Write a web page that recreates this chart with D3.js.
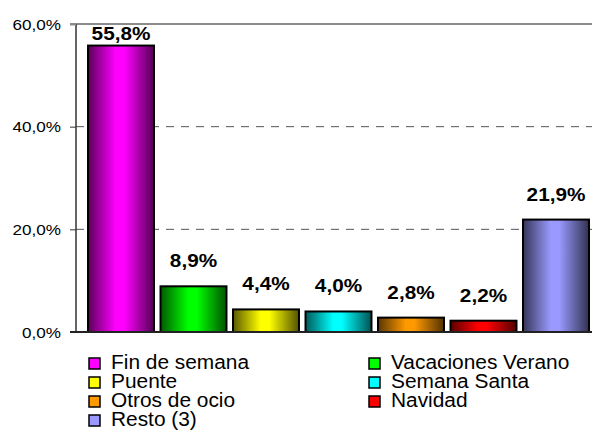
<!DOCTYPE html>
<html>
<head>
<meta charset="utf-8">
<script src="https://cdn.jsdelivr.net/npm/d3@7"></script>
<style>
  html, body { margin: 0; padding: 0; background: #fff; }
  svg { display: block; }
  text { font-family: "Liberation Sans", Arial, sans-serif; }
</style>
</head>
<body>
<svg id="chart" width="592" height="431"></svg>
<script>
const categories = ["Fin de semana", "Vacaciones Verano", "Puente", "Semana Santa", "Otros de ocio", "Navidad", "Resto (3)"];
const values = [55.8, 8.9, 4.4, 4.0, 2.8, 2.2, 21.9];
const colors = ["#ff00ff", "#00ff00", "#ffff00", "#00ffff", "#ff9900", "#ff0000", "#9999ff"];
const yTicks = [0, 20, 40, 60];

(function () {
const fmt = v => v.toFixed(1).replace(".", ",") + "%";

const svg = d3.select("#chart");
const mLeft = 76, mRight = 592, mTop = 24, mBottom = 332;

const x = d3.scaleBand().domain(categories).range([84.75, 592.25]).paddingInner(0.09).paddingOuter(0.045);
const y = d3.scaleLinear().domain([0, 60]).range([mBottom, mTop]);

// gradients
const defs = svg.append("defs");
categories.forEach((c, i) => {
  const base = d3.color(colors[i]).formatHex();
  const dark = d3.interpolateRgb("#000", colors[i]);
  const g = defs.append("linearGradient").attr("id", "g" + i)
    .attr("x1", "0%").attr("x2", "100%").attr("y1", "0%").attr("y2", "0%");
  g.append("stop").attr("offset", "0%").attr("stop-color", dark(0.35));
  g.append("stop").attr("offset", "42%").attr("stop-color", base);
  g.append("stop").attr("offset", "55%").attr("stop-color", base);
  g.append("stop").attr("offset", "100%").attr("stop-color", dark(0.32));
});

// gridlines
svg.append("g").selectAll("line").data(yTicks.filter(t => t > 0 && t < 60)).join("line")
  .attr("x1", mLeft).attr("x2", mRight)
  .attr("y1", d => y(d)).attr("y2", d => y(d))
  .attr("stroke", "#555").attr("stroke-width", 1).attr("stroke-dasharray", "8,7");

// top border
svg.append("line").attr("x1", 70).attr("x2", mRight).attr("y1", y(60)).attr("y2", y(60))
  .attr("stroke", "#8c8c8c").attr("stroke-width", 2);

// left axis
const yAxis = d3.axisLeft(y).tickValues(yTicks).tickSize(6).tickPadding(8).tickFormat(fmt);
const ag = svg.append("g").attr("transform", `translate(${mLeft},0)`).call(yAxis);
ag.attr("font-size", null).attr("font-family", null);
ag.select(".domain").attr("stroke", "#333").attr("stroke-width", 1.5).attr("d", `M0,${mTop}V${mBottom}`);
ag.selectAll(".tick line").attr("stroke", "#333").attr("stroke-width", 1);
ag.selectAll(".tick").filter(d => d === 60).select("line").attr("stroke", "#8c8c8c").attr("stroke-width", 2);
ag.selectAll(".tick text").style("font-size", "15px").attr("fill", "#000")
  .attr("x", -15).attr("dy", "0.35em");

// bars
svg.append("g").selectAll("rect").data(values).join("rect")
  .attr("x", (d, i) => x(categories[i]))
  .attr("width", x.bandwidth())
  .attr("y", d => y(d))
  .attr("height", d => y(0) - y(d))
  .attr("fill", (d, i) => `url(#g${i})`)
  .attr("stroke", "#000").attr("stroke-width", 2);

// bottom axis line
svg.append("line").attr("x1", 70).attr("x2", mRight).attr("y1", mBottom).attr("y2", mBottom)
  .attr("stroke", "#222").attr("stroke-width", 2);

// value labels
const vl = svg.append("g").selectAll("text").data(values).join("text")
  .attr("x", (d, i) => x(categories[i]) + x.bandwidth() / 2)
  .attr("y", d => Math.max(y(d) - 19, 40))
  .attr("text-anchor", "middle")
  .style("font-size", "18.5px").attr("font-weight", "bold")
  .text(fmt);

// legend
const lg = svg.append("g");
const items = lg.selectAll("g").data(categories).join("g")
  .attr("transform", (d, i) => `translate(${i % 2 === 0 ? 89 : 369},${369 + Math.floor(i / 2) * 19})`);
items.append("rect").attr("x", 0).attr("y", -11).attr("width", 11).attr("height", 11)
  .attr("fill", (d, i) => colors[i]).attr("stroke", "#000").attr("stroke-width", 1.5);
const lt = items.append("text").attr("x", 22).attr("y", 0).style("font-size", "19.5px").text(d => d);

// horizontal stretch to match reference text proportions
function stretch(sel, f) {
  sel.each(function () {
    const w = this.getComputedTextLength();
    d3.select(this).attr("textLength", w * f).attr("lengthAdjust", "spacingAndGlyphs");
  });
}
stretch(ag.selectAll(".tick text"), 1.14);
stretch(vl, 1.12);
stretch(lt, 1.07);
})();
</script>
</body>
</html>
